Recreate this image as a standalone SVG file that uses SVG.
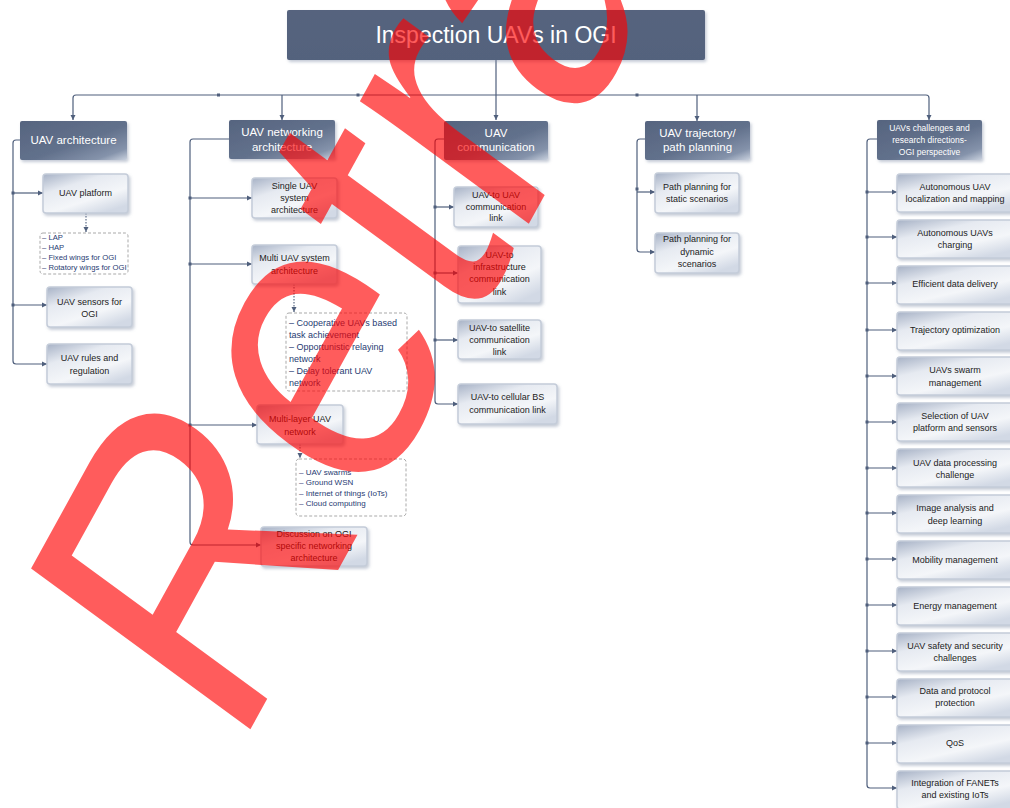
<svg xmlns="http://www.w3.org/2000/svg" width="1010" height="808" viewBox="0 0 1010 808">
<defs>
<linearGradient id="gHead" x1="0" y1="0" x2="1" y2="1">
<stop offset="0" stop-color="#56647f"/>
<stop offset="0.55" stop-color="#62718c"/>
<stop offset="0.85" stop-color="#8593ab"/>
<stop offset="1" stop-color="#c9d1de"/>
</linearGradient>
<linearGradient id="gTitle" x1="0" y1="0" x2="0" y2="1">
<stop offset="0" stop-color="#56647e"/>
<stop offset="1" stop-color="#53627d"/>
</linearGradient>
<linearGradient id="gBox" x1="0" y1="0" x2="0.7" y2="1">
<stop offset="0" stop-color="#a7b2c6"/>
<stop offset="0.35" stop-color="#e6eaf1"/>
<stop offset="0.7" stop-color="#f4f6f9"/>
<stop offset="1" stop-color="#d2d9e5"/>
</linearGradient>
<filter id="sh" x="-10%" y="-10%" width="125%" height="135%">
<feDropShadow dx="1.5" dy="2" stdDeviation="1.5" flood-color="#7d8aa3" flood-opacity="0.45"/>
</filter>
<marker id="ar" markerUnits="userSpaceOnUse" markerWidth="6" markerHeight="6" refX="5" refY="3" orient="auto">
<path d="M0,0.5 L5,3 L0,5.5 z" fill="#4f5f7c"/>
</marker>
</defs>
<style>
.hd{fill:url(#gHead);filter:url(#sh)}
.bx{fill:url(#gBox);stroke:#c4ccd9;stroke-width:1.5;filter:url(#sh)}
.ds{fill:#fff;stroke:#a9a9a9;stroke-width:1;stroke-dasharray:3,2}
.ht{font-family:"Liberation Sans",Arial,sans-serif;font-size:11.5px;fill:#fff;text-anchor:middle}
.hs{font-family:"Liberation Sans",Arial,sans-serif;font-size:8.5px;fill:#fff;text-anchor:middle}
.bt{font-family:"Liberation Sans",Arial,sans-serif;font-size:9px;fill:#222;text-anchor:middle}
.lt{font-family:"Liberation Sans",Arial,sans-serif;fill:#1f3b72}
.cn{fill:none;stroke:#4f5f7c;stroke-width:1.2}
.dt{fill:none;stroke:#4f5f7c;stroke-width:1.1;stroke-dasharray:1.5,1.5}
.dot{fill:#4f5f7c}
</style>
<rect width="1010" height="808" fill="#fff"/>

<g id="connectors">
<path class="cn" d="M496,60 V120" marker-end="url(#ar)"/>
<path class="cn" d="M496,95 H76 Q73,95 73,98 V120" marker-end="url(#ar)"/>
<path class="cn" d="M496,95 H926 Q929,95 929,98 V120" marker-end="url(#ar)"/>
<path class="cn" d="M282,95 V120" marker-end="url(#ar)"/>
<path class="cn" d="M697,95 V121" marker-end="url(#ar)"/>
<rect class="dot" x="217" y="93.5" width="3" height="3"/>
<rect class="dot" x="356.5" y="93.5" width="3" height="3"/>
<rect class="dot" x="635.5" y="93.5" width="3" height="3"/>

<path class="cn" d="M20,140 H16 Q13,140 13,143 V361 Q13,364 16,364 H47" marker-end="url(#ar)"/>
<path class="cn" d="M13,193 H43" marker-end="url(#ar)"/>
<path class="cn" d="M13,305 H47" marker-end="url(#ar)"/>
<rect class="dot" x="11.5" y="191.5" width="3" height="3"/>
<rect class="dot" x="11.5" y="303.5" width="3" height="3"/>
<path class="dt" d="M86,213 V232" marker-end="url(#ar)"/>

<path class="cn" d="M229,139 H193 Q190,139 190,142 V542 Q190,545 193,545 H261" marker-end="url(#ar)"/>
<path class="cn" d="M190,198 H252" marker-end="url(#ar)"/>
<path class="cn" d="M190,264 H252" marker-end="url(#ar)"/>
<path class="cn" d="M190,425 H257" marker-end="url(#ar)"/>
<rect class="dot" x="188.5" y="196.5" width="3" height="3"/>
<rect class="dot" x="188.5" y="262.5" width="3" height="3"/>
<rect class="dot" x="188.5" y="423.5" width="3" height="3"/>
<path class="dt" d="M294,284 V312" marker-end="url(#ar)"/>
<path class="dt" d="M300,444 V458" marker-end="url(#ar)"/>

<path class="cn" d="M444,139 H438 Q435,139 435,142 V401 Q435,404 438,404 H458" marker-end="url(#ar)"/>
<path class="cn" d="M435,207 H454" marker-end="url(#ar)"/>
<path class="cn" d="M435,273 H458" marker-end="url(#ar)"/>
<path class="cn" d="M435,340 H458" marker-end="url(#ar)"/>
<rect class="dot" x="433.5" y="205.5" width="3" height="3"/>
<rect class="dot" x="433.5" y="271.5" width="3" height="3"/>
<rect class="dot" x="433.5" y="338.5" width="3" height="3"/>

<path class="cn" d="M645,139 H640 Q637,139 637,142 V249 Q637,252 640,252 H655" marker-end="url(#ar)"/>
<path class="cn" d="M637,192 H655" marker-end="url(#ar)"/>
<rect class="dot" x="635.5" y="187.5" width="3" height="3"/>

<path class="cn" d="M877,139 H870 Q867,139 867,142 V785 Q867,788 870,788 H897" marker-end="url(#ar)"/>
<path class="cn" d="M867,192 H897 M867,237 H897 M867,283 H897 M867,330 H897 M867,376 H897 M867,422 H897 M867,468 H897 M867,513 H897 M867,559 H897 M867,605 H897 M867,651 H897 M867,697 H897 M867,743 H897"/>
<g fill="#4f5f7c">
<path d="M892,189.5 L897,192 L892,194.5z M892,234.5 L897,237 L892,239.5z M892,280.5 L897,283 L892,285.5z M892,327.5 L897,330 L892,332.5z M892,373.5 L897,376 L892,378.5z M892,419.5 L897,422 L892,424.5z M892,465.5 L897,468 L892,470.5z M892,510.5 L897,513 L892,515.5z M892,556.5 L897,559 L892,561.5z M892,602.5 L897,605 L892,607.5z M892,648.5 L897,651 L892,653.5z M892,694.5 L897,697 L892,699.5z M892,740.5 L897,743 L892,745.5z"/>
</g>
<g class="dot">
<rect x="865.5" y="190.5" width="3" height="3"/><rect x="865.5" y="235.5" width="3" height="3"/><rect x="865.5" y="281.5" width="3" height="3"/><rect x="865.5" y="328.5" width="3" height="3"/><rect x="865.5" y="374.5" width="3" height="3"/><rect x="865.5" y="420.5" width="3" height="3"/><rect x="865.5" y="466.5" width="3" height="3"/><rect x="865.5" y="511.5" width="3" height="3"/><rect x="865.5" y="557.5" width="3" height="3"/><rect x="865.5" y="603.5" width="3" height="3"/><rect x="865.5" y="649.5" width="3" height="3"/><rect x="865.5" y="695.5" width="3" height="3"/><rect x="865.5" y="741.5" width="3" height="3"/>
</g>
</g>

<g id="title">
<rect x="287" y="10" width="418" height="50" rx="2" fill="url(#gTitle)" filter="url(#sh)"/>
<text x="496" y="43" font-family="Liberation Sans, Arial, sans-serif" font-size="23" fill="#fff" text-anchor="middle">Inspection UAVs in OGI</text>
</g>

<g id="h-arch"><rect class="hd" x="20" y="121" width="107" height="39" rx="2"/><text class="ht" x="73.5" y="144">UAV architecture</text></g>
<g id="h-net"><rect class="hd" x="229" y="120" width="106" height="39" rx="2"/><text class="ht" x="282" y="136">UAV networking</text><text class="ht" x="282" y="151">architecture</text></g>
<g id="h-comm"><rect class="hd" x="444" y="121" width="104" height="39" rx="2"/><text class="ht" x="496" y="137">UAV</text><text class="ht" x="496" y="151">communication</text></g>
<g id="h-traj"><rect class="hd" x="645" y="121" width="105" height="39" rx="2"/><text class="ht" x="697.5" y="137">UAV trajectory/</text><text class="ht" x="697.5" y="151">path planning</text></g>
<g id="h-chal"><rect class="hd" x="877" y="120" width="105" height="40" rx="2"/><text class="hs" x="929.5" y="131">UAVs challenges and</text><text class="hs" x="929.5" y="143">research directions-</text><text class="hs" x="929.5" y="155">OGI perspective</text></g>

<g id="n-platform"><rect class="bx" x="43" y="174" width="85" height="39" rx="3"/><text class="bt" x="85.5" y="196">UAV platform</text></g>
<g id="n-platform-list"><rect class="ds" x="40" y="233" width="88" height="41" rx="3"/>
<text class="lt" font-size="7.7" x="42" y="239.5">– LAP</text><text class="lt" font-size="7.7" x="42" y="249.5">– HAP</text><text class="lt" font-size="7.7" x="42" y="259.5">– Fixed wings for OGI</text><text class="lt" font-size="7.7" x="42" y="269.5">– Rotatory wings for OGI</text></g>
<g id="n-sensors"><rect class="bx" x="47" y="287" width="85" height="40" rx="3"/><text class="bt" x="89.5" y="305">UAV sensors for</text><text class="bt" x="89.5" y="317">OGI</text></g>
<g id="n-rules"><rect class="bx" x="47" y="344" width="85" height="40" rx="3"/><text class="bt" x="89.5" y="361">UAV rules and</text><text class="bt" x="89.5" y="374">regulation</text></g>

<g id="n-single"><rect class="bx" x="252" y="178" width="85" height="40" rx="3"/><text class="bt" x="294.5" y="189">Single UAV</text><text class="bt" x="294.5" y="201">system</text><text class="bt" x="294.5" y="213">architecture</text></g>
<g id="n-multi"><rect class="bx" x="252" y="245" width="85" height="39" rx="3"/><text class="bt" x="294.5" y="261">Multi UAV system</text><text class="bt" x="294.5" y="274">architecture</text></g>
<g id="n-multi-list"><rect class="ds" x="286" y="313" width="121" height="78" rx="3"/>
<text class="lt" font-size="9" x="289" y="325.5">–  Cooperative UAVs based</text><text class="lt" font-size="9" x="289" y="337.5">task achievement</text><text class="lt" font-size="9" x="289" y="349.5">– Opportunistic relaying</text><text class="lt" font-size="9" x="289" y="361.5">network</text><text class="lt" font-size="9" x="289" y="373.5">– Delay tolerant UAV</text><text class="lt" font-size="9" x="289" y="385.5">network</text></g>
<g id="n-multilayer"><rect class="bx" x="257" y="405" width="86" height="39" rx="3"/><text class="bt" x="300" y="422">Multi-layer UAV</text><text class="bt" x="300" y="435">network</text></g>
<g id="n-multilayer-list"><rect class="ds" x="296" y="459" width="110" height="57" rx="3"/>
<text class="lt" font-size="8" x="299" y="475">–  UAV swarms</text><text class="lt" font-size="8" x="299" y="485">– Ground  WSN</text><text class="lt" font-size="8" x="299" y="496">– Internet of things (IoTs)</text><text class="lt" font-size="8" x="299" y="506">–  Cloud computing</text></g>
<g id="n-discussion"><rect class="bx" x="261" y="527" width="106" height="39" rx="3"/><text class="bt" x="314" y="537">Discussion on OGI</text><text class="bt" x="314" y="549">specific networking</text><text class="bt" x="314" y="561">architecture</text></g>

<g id="n-u2u"><rect class="bx" x="454" y="187" width="84" height="40" rx="3"/><text class="bt" x="496" y="198">UAV-to UAV</text><text class="bt" x="496" y="210">communication</text><text class="bt" x="496" y="221">link</text></g>
<g id="n-u2i"><rect class="bx" x="458" y="246" width="83" height="57" rx="3"/><text class="bt" x="499.5" y="258">UAV-to</text><text class="bt" x="499.5" y="270">infrastructure</text><text class="bt" x="499.5" y="282">communication</text><text class="bt" x="499.5" y="295">link</text></g>
<g id="n-u2s"><rect class="bx" x="458" y="320" width="83" height="39" rx="3"/><text class="bt" x="499.5" y="331">UAV-to satellite</text><text class="bt" x="499.5" y="343">communication</text><text class="bt" x="499.5" y="355">link</text></g>
<g id="n-u2c"><rect class="bx" x="458" y="384" width="99" height="40" rx="3"/><text class="bt" x="507.5" y="400">UAV-to cellular BS</text><text class="bt" x="507.5" y="413">communication link</text></g>

<g id="n-static"><rect class="bx" x="655" y="173" width="84" height="40" rx="3"/><text class="bt" x="697" y="190">Path planning for</text><text class="bt" x="697" y="202">static scenarios</text></g>
<g id="n-dynamic"><rect class="bx" x="655" y="233" width="84" height="40" rx="3"/><text class="bt" x="697" y="242">Path planning for</text><text class="bt" x="697" y="255">dynamic</text><text class="bt" x="697" y="267">scenarios</text></g>

<g id="c1"><rect class="bx" x="897" y="174" width="118" height="38" rx="3"/><text class="bt" x="955" y="190">Autonomous UAV</text><text class="bt" x="955" y="202">localization and mapping</text></g>
<g id="c2"><rect class="bx" x="897" y="220" width="118" height="38" rx="3"/><text class="bt" x="955" y="236">Autonomous UAVs</text><text class="bt" x="955" y="248">charging</text></g>
<g id="c3"><rect class="bx" x="897" y="266" width="118" height="38" rx="3"/><text class="bt" x="955" y="287">Efficient data delivery</text></g>
<g id="c4"><rect class="bx" x="897" y="312" width="118" height="38" rx="3"/><text class="bt" x="955" y="333">Trajectory optimization</text></g>
<g id="c5"><rect class="bx" x="897" y="357" width="118" height="38" rx="3"/><text class="bt" x="955" y="373">UAVs swarm</text><text class="bt" x="955" y="386">management</text></g>
<g id="c6"><rect class="bx" x="897" y="403" width="118" height="38" rx="3"/><text class="bt" x="955" y="419">Selection of UAV</text><text class="bt" x="955" y="431">platform and sensors</text></g>
<g id="c7"><rect class="bx" x="897" y="449" width="118" height="38" rx="3"/><text class="bt" x="955" y="466">UAV data processing</text><text class="bt" x="955" y="478">challenge</text></g>
<g id="c8"><rect class="bx" x="897" y="495" width="118" height="38" rx="3"/><text class="bt" x="955" y="511">Image analysis and</text><text class="bt" x="955" y="524">deep learning</text></g>
<g id="c9"><rect class="bx" x="897" y="541" width="118" height="38" rx="3"/><text class="bt" x="955" y="563">Mobility management</text></g>
<g id="c10"><rect class="bx" x="897" y="587" width="118" height="38" rx="3"/><text class="bt" x="955" y="609">Energy management</text></g>
<g id="c11"><rect class="bx" x="897" y="633" width="118" height="38" rx="3"/><text class="bt" x="955" y="649">UAV safety and security</text><text class="bt" x="955" y="661">challenges</text></g>
<g id="c12"><rect class="bx" x="897" y="679" width="118" height="38" rx="3"/><text class="bt" x="955" y="694">Data and protocol</text><text class="bt" x="955" y="706">protection</text></g>
<g id="c13"><rect class="bx" x="897" y="725" width="118" height="38" rx="3"/><text class="bt" x="955" y="746">QoS</text></g>
<g id="c14"><rect class="bx" x="897" y="771" width="118" height="38" rx="3"/><text class="bt" x="955" y="786">Integration of FANETs</text><text class="bt" x="955" y="798">and existing IoTs</text></g>

<text id="watermark" transform="matrix(0.451,-0.819,0.797,0.584,235.6,756.2)" font-family="Liberation Sans, Arial, sans-serif" font-size="400" fill="#ff0000" fill-opacity="0.64">Retracted</text>
</svg>
